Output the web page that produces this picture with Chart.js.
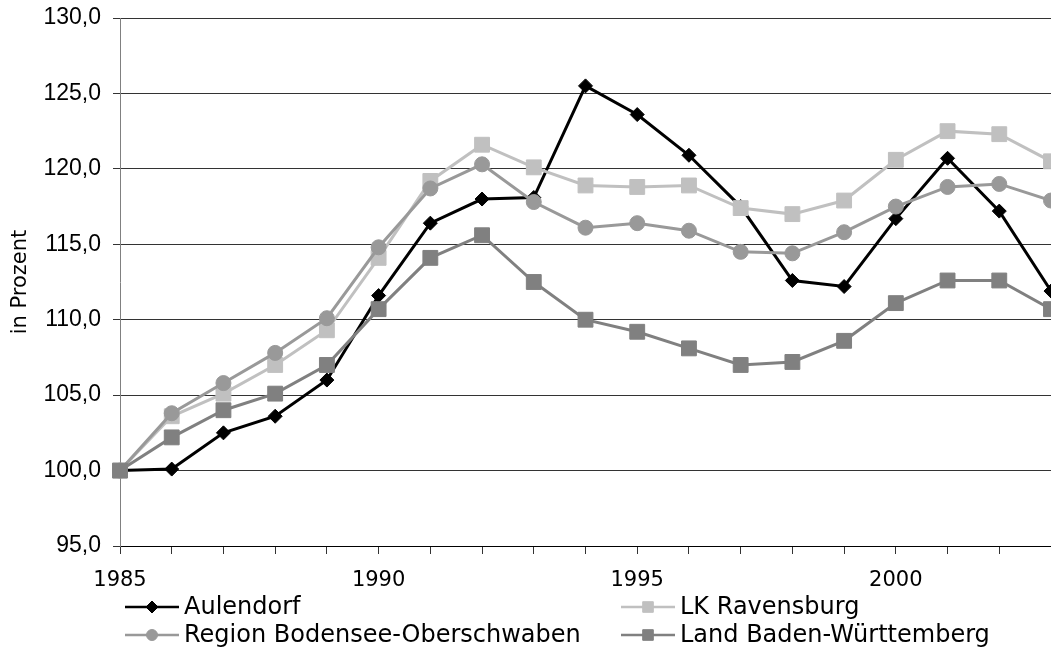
<!DOCTYPE html>
<html lang="de">
<head>
<meta charset="utf-8">
<title>Bevölkerungsentwicklung 1985–2003</title>
<script src="https://cdn.jsdelivr.net/npm/chart.js@4.4.1/dist/chart.umd.min.js"></script>
<style>
  html, body { margin: 0; padding: 0; background: #fff; overflow: hidden; }
  #wrap { width: 1051px; height: 648px; }
</style>
</head>
<body>
<div id="wrap"><canvas id="chart" width="1051" height="648"></canvas></div>
<script>
// Index values (1985 = 100)
const years = [1985, 1986, 1987, 1988, 1989, 1990, 1991, 1992, 1993, 1994,
               1995, 1996, 1997, 1998, 1999, 2000, 2001, 2002, 2003];
const aulendorf   = [100.0, 100.1, 102.5, 103.6, 106.0, 111.6, 116.4, 118.0, 118.1, 125.5,
                     123.6, 120.9, 117.5, 112.6, 112.2, 116.7, 120.7, 117.2, 111.9];
const lkRavensburg = [100.0, 103.6, 105.1, 107.0, 109.3, 114.1, 119.2, 121.6, 120.1, 118.9,
                     118.8, 118.9, 117.4, 117.0, 117.9, 120.6, 122.5, 122.3, 120.5];
const regionBO    = [100.0, 103.8, 105.8, 107.8, 110.1, 114.8, 118.7, 120.3, 117.8, 116.1,
                     116.4, 115.9, 114.5, 114.4, 115.8, 117.5, 118.8, 119.0, 117.9];
const landBW      = [100.0, 102.2, 104.0, 105.1, 107.0, 110.7, 114.1, 115.6, 112.5, 110.0,
                     109.2, 108.1, 107.0, 107.2, 108.6, 111.1, 112.6, 112.6, 110.7];
const seriesNames = ['Aulendorf', 'LK Ravensburg', 'Region Bodensee-Oberschwaben', 'Land Baden-Württemberg'];

const legendFont = '24px "DejaVu Sans", sans-serif';

function series(label, data, color, style, radius, order) {
  return {
    label, data, order,
    borderColor: color, backgroundColor: color,
    pointBackgroundColor: color, pointBorderColor: color,
    borderWidth: 3, pointBorderWidth: 1,
    pointStyle: style, pointRadius: radius, pointHoverRadius: radius,
    tension: 0, clip: false
  };
}

// Two-column legend below the axis
const gridLegend = {
  id: 'gridLegend',
  afterDraw(chart) {
    const ctx = chart.ctx;
    const area = chart.chartArea;
    const colX = [area.left + 5, area.left + 501];
    const rowY = [area.bottom + 61, area.bottom + 89];
    const legendRadius = { circle: 5.5, rectRot: 6, rect: 7.5 };
    chart.data.datasets.forEach((ds, i) => {
      const x0 = colX[i % 2];
      const y = rowY[Math.floor(i / 2)];
      ctx.save();
      ctx.strokeStyle = ds.borderColor;
      ctx.lineWidth = 2.5;
      ctx.beginPath();
      ctx.moveTo(x0, y);
      ctx.lineTo(x0 + 54, y);
      ctx.stroke();
      ctx.fillStyle = ds.backgroundColor;
      ctx.strokeStyle = ds.borderColor;
      ctx.lineWidth = 1;
      Chart.helpers.drawPoint(ctx, {
        pointStyle: ds.pointStyle,
        radius: legendRadius[ds.pointStyle],
        borderWidth: 1,
        rotation: 0
      }, x0 + 27, y);
      ctx.fillStyle = '#000';
      ctx.font = legendFont;
      ctx.textBaseline = 'middle';
      ctx.textAlign = 'left';
      ctx.fillText(ds.label, x0 + 59, y + 1);
      ctx.restore();
    });
  }
};

new Chart(document.getElementById('chart'), {
  type: 'line',
  data: {
    labels: years,
    datasets: [
      series(seriesNames[0], aulendorf, '#000000', 'rectRot', 7, 4),
      series(seriesNames[1], lkRavensburg, '#c0c0c0', 'rect', 10.5, 3),
      series(seriesNames[2], regionBO, '#999999', 'circle', 7.5, 2),
      series(seriesNames[3], landBW, '#808080', 'rect', 10.5, 1)
    ]
  },
  options: {
    responsive: false,
    animation: false,
    devicePixelRatio: 1,
    events: [],
    layout: { autoPadding: false, padding: { left: 0, right: 0, top: 18, bottom: 62 } },
    plugins: {
      legend: { display: false },
      tooltip: { enabled: false }
    },
    scales: {
      x: {
        type: 'category',
        offset: false,
        afterFit(axis) {
          axis.height = 40;
          axis.paddingLeft = 0;
          axis.paddingRight = 0;
        },
        border: { display: true, color: '#000', width: 1 },
        grid: { drawOnChartArea: false, drawTicks: true, tickLength: 8, color: '#333' },
        ticks: {
          autoSkip: false,
          maxRotation: 0,
          minRotation: 0,
          padding: 14,
          color: '#000',
          font: { family: '"DejaVu Sans", sans-serif', size: 21 },
          callback: (v, i) => (years[i] % 5 === 0 ? String(years[i]) : '')
        }
      },
      y: {
        min: 95,
        max: 130,
        afterFit(axis) {
          axis.width = 120;
          axis.paddingTop = 0;
          axis.paddingBottom = 0;
        },
        border: { display: true, color: '#808080', width: 1 },
        grid: { color: '#333', lineWidth: 1, drawTicks: true, tickLength: 7 },
        ticks: {
          stepSize: 5,
          padding: 12,
          color: '#000',
          font: { family: '"Liberation Sans", Arial, sans-serif', size: 23 },
          callback: v => v.toFixed(1).replace('.', ',')
        },
        title: {
          display: true,
          text: 'in Prozent',
          color: '#000',
          padding: { top: 8, bottom: 0 },
          font: { family: '"DejaVu Sans", sans-serif', size: 21 }
        }
      }
    }
  },
  plugins: [gridLegend]
});
</script>
</body>
</html>
